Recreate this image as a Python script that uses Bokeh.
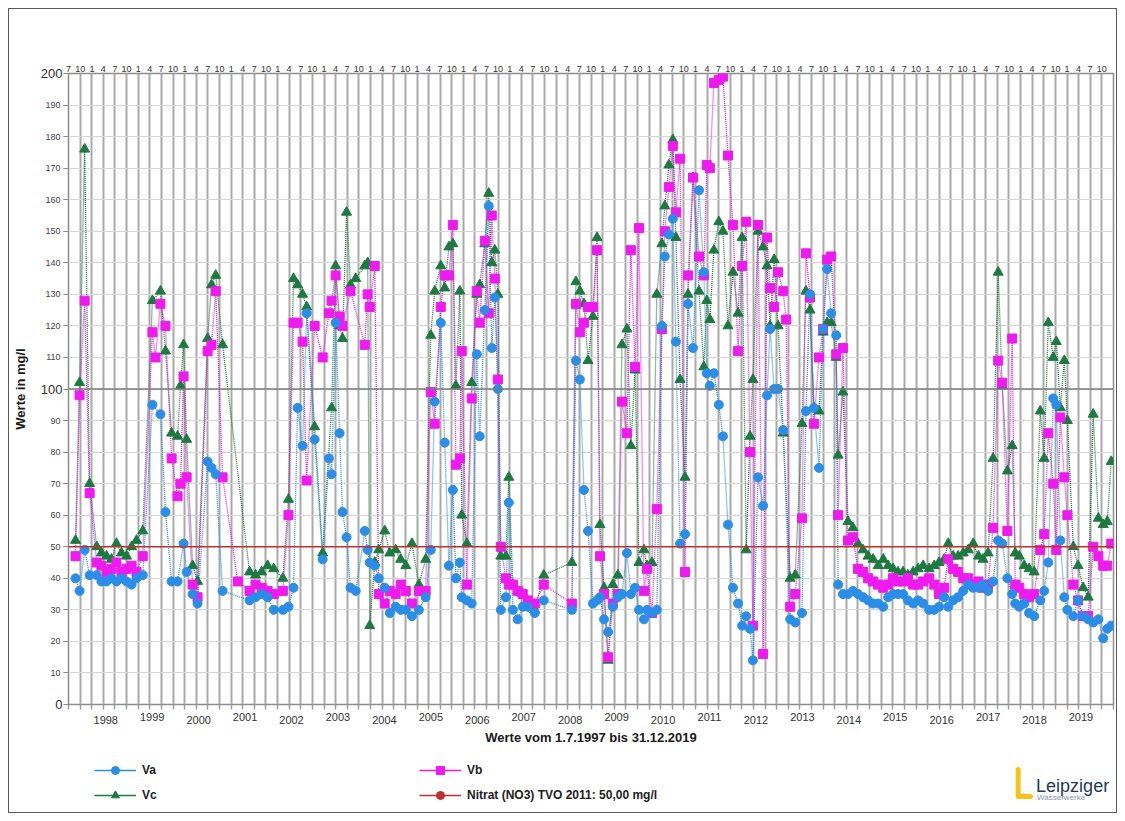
import pandas as pd
from bokeh.plotting import figure
from bokeh.layouts import column
from bokeh.models import (Range1d, LinearAxis, FixedTicker, Span, Legend, LegendItem,
                          Label, ColumnDataSource)
from bokeh.embed import file_html
from bokeh.resources import INLINE

# ---------------- data ----------------
dates = [
    # 1997
    "1997-08-25", "1997-09-26", "1997-11-05", "1997-12-14",
    # 1998
    "1998-02-08", "1998-03-17", "1998-04-26", "1998-06-04", "1998-07-13", "1998-08-22", "1998-10-01", "1998-11-09", "1998-12-18",
    # 1999
    "1999-02-05", "1999-04-22", "1999-05-16", "1999-06-24", "1999-08-03", "1999-09-20", "1999-11-06", "1999-11-29", "1999-12-23",
    # 2000
    "2000-01-16", "2000-03-03", "2000-04-11", "2000-06-29", "2000-07-30", "2000-09-01", "2000-10-25",
    # 2001
    "2001-02-22", "2001-05-25", "2001-07-11", "2001-08-28", "2001-10-14", "2001-12-01",
    # 2002
    "2002-02-11", "2002-03-27", "2002-05-06", "2002-06-07", "2002-07-16", "2002-08-17", "2002-10-19", "2002-12-21",
    # 2003
    "2003-02-08", "2003-03-01", "2003-04-02", "2003-05-03", "2003-05-26", "2003-06-27", "2003-07-28", "2003-09-07", "2003-11-17", "2003-12-10", "2003-12-26",
    # 2004
    "2004-02-04", "2004-03-06", "2004-04-22", "2004-06-01", "2004-07-17", "2004-08-26", "2004-10-05", "2004-11-22",
    # 2005
    "2005-01-16", "2005-03-10", "2005-04-19", "2005-05-20", "2005-07-07", "2005-08-07", "2005-09-09", "2005-10-10", "2005-11-03", "2005-12-04", "2005-12-19",
    # 2006
    "2006-01-28", "2006-03-07", "2006-04-16", "2006-05-09", "2006-06-18", "2006-07-19", "2006-08-12", "2006-09-05", "2006-09-29", "2006-10-22", "2006-12-01", "2006-12-24",
    # 2007
    "2007-01-25", "2007-03-04", "2007-04-13", "2007-05-22", "2007-07-16", "2007-09-25",
    # 2008
    "2008-05-03", "2008-06-04", "2008-07-05", "2008-08-06", "2008-09-07", "2008-10-16", "2008-11-17", "2008-12-10",
    # 2009
    "2009-01-11", "2009-02-12", "2009-03-21", "2009-04-30", "2009-06-01", "2009-07-10", "2009-08-10", "2009-09-12", "2009-10-13", "2009-11-21", "2009-12-15",
    # 2010
    "2010-01-23", "2010-03-02", "2010-04-11", "2010-05-04", "2010-06-05", "2010-07-06", "2010-07-30", "2010-09-01", "2010-10-10", "2010-11-03", "2010-12-12",
    # 2011
    "2011-01-28", "2011-03-07", "2011-03-30", "2011-04-23", "2011-05-25", "2011-07-03", "2011-08-04", "2011-09-13", "2011-10-22", "2011-12-01",
    # 2012
    "2012-01-02", "2012-02-03", "2012-03-04", "2012-03-27", "2012-05-06", "2012-06-15", "2012-07-16", "2012-08-09", "2012-09-10", "2012-10-11", "2012-11-20", "2012-12-13",
    # 2013
    "2013-01-14", "2013-02-23", "2013-04-17", "2013-05-18", "2013-06-19", "2013-07-20", "2013-08-29", "2013-09-30", "2013-11-01", "2013-12-02",
    # 2014
    "2014-01-11", "2014-01-26", "2014-03-05", "2014-04-14", "2014-05-23", "2014-07-01", "2014-08-10", "2014-09-19", "2014-10-28", "2014-12-07",
    # 2015
    "2015-01-16", "2015-02-24", "2015-04-03", "2015-05-12", "2015-06-21", "2015-07-29", "2015-09-08", "2015-10-17", "2015-11-26",
    # 2016
    "2016-01-12", "2016-02-21", "2016-03-30", "2016-05-09", "2016-06-10", "2016-07-19", "2016-08-27", "2016-10-06", "2016-11-15", "2016-12-24",
    # 2017
    "2017-02-03", "2017-03-11", "2017-04-20", "2017-05-29", "2017-07-08", "2017-08-09", "2017-09-18", "2017-10-26", "2017-11-19", "2017-12-21",
    # 2018
    "2018-01-29", "2018-03-08", "2018-04-17", "2018-06-04", "2018-07-05", "2018-08-06", "2018-09-14", "2018-10-08", "2018-11-09", "2018-12-10",
    # 2019
    "2019-01-03", "2019-02-19", "2019-03-28", "2019-05-07", "2019-06-16", "2019-07-25", "2019-09-04", "2019-10-12", "2019-11-13", "2019-12-14",
]

va = [
    40, 36, 49, 41,
    41, 39, 39, 40, 39, 40, 39, 38, 40,
    41, 95, None, 92, 61, 39, 39, None, 51,
    42, 35, 32, 77, 75, 73, 36,
    None, 33, 34, 35, 34, 30,
    30, 31, 37, 94, 82, 124, 84, 46,
    78, 73, 121, 86, 61, 53, 37, 36, 55, 49, 45,
    44, 40, 37, 29, 31, 30, 30, 28,
    30, 34, 49, 96, 121, 83, 44, 68, 40, 45, 34,
    33, 32, 111, 85, 125, 158, 113, 129, 100, 30, 34, 64,
    30, 27, 31, 31, 29, 33,
    30, 109, 103, 68, 55, 32, 33, 34,
    27, 23, 31, 34, 35, 48, 35, 37, 30, 27, 30,
    29, 30, 120, 142, 149, 154, 115, 51, 54, 127, 113,
    163, 137, 105, 101, 105, 95, 85, 57, 37, 32,
    25, 28, 24, 14, 72, 63, 98, 119, 100, 100, 87, None,
    27, 26, 29, 93, 130, 94, 75, 119, 138, 124,
    117, 38, 35, 35, 36, 35, 34, 33, 32, 32,
    31, 34, 35, 35, 35, 33, 32, 33, 32,
    30, 30, 31, 34, 31, 33, 34, 36, 38, 37,
    37, 38, 36, 39, 52, 51, 40, 35, 32, 31,
    32, 29, 28, 33, 36, 45, 97, 95, 52, 34,
    30, 28, 33, 28, 27, 26, 27, 21, 24, 25,
]

vb = [
    47, 98, 128, 67,
    45, 44, 42, 43, 45, 42, 43, 44, 42,
    47, 118, 110, 127, 120, 78, 66, 70, 104,
    72, 38, 34, 112, 114, 131, 72,
    39, 36, 38, 37, 36, 35,
    36, 60, 121, 121, 115, 71, 120, 110,
    124, 128, 136, 123, 120, None, 131, None, 114, 130, 126,
    139, 35, 32, 36, 35, 38, 36, 32,
    36, 36, 99, 89, 126, 136, 136, 152, 76, 78, 112,
    38, 97, 131, 121, 147, 124, 155, 135, 103, 50, 40, 38,
    38, 36, 35, 33, 32, 38,
    32, 127, 118, 121, 126, 126, 144, 47,
    35, 15, 32, 35, 96, 86, 144, 107, 151, 36, 43,
    29, 62, 119, 150, 164, 177, 156, 173, 42, 136, 167,
    142, 136, 171, 170, 197, 198, 199, 174, 152, 112,
    139, 153, 80, 25, 152, 16, 148, 132, 126, 137, 131, 122,
    31, 35, 59, 143, 129, 89, 110, 119, 141, 142,
    111, 60, 113, 52, 53, 43, 42, 40, 39, 38,
    37, 38, 40, 39, 39, 40, 38, 38, 39,
    40, 38, 35, 37, 46, 43, 42, 40, 40, 38,
    39, 37, 38, 56, 109, 102, 55, 116, 38, 37,
    35, 34, 35, 49, 54, 86, 70, 49, 91, 72,
    60, 38, 33, 28, 28, 50, 47, 44, 44, 51,
]

vc = [
    52, 102, 176, 70,
    50, 48, 47, 46, 51, 48, 47, 50, 52,
    55, 128, None, 131, 112, 86, 85, 101, 114,
    84, 44, 39, 116, 133, 136, 114,
    None, 42, 41, 42, 44, 43,
    40, 65, 135, 133, 130, 126, 88, 48,
    None, 94, 139, 120, 116, 156, 133, 135, 139, 140, 25,
    45, 49, 55, 48, 49, 46, 44, 51,
    38, 46, 117, 131, 139, 132, 145, 146, 101, 131, 60,
    51, 102, 130, 133, 146, 162, 140, 144, 130, 47, 47, 72,
    38, 36, 35, 32, 30, 41,
    45, 134, 131, 127, 109, 123, 148, 57,
    37, 14, 38, 41, 114, 119, 82, 106, 45, 49, 44,
    45, 130, 146, 158, 171, 179, 148, 103, 72, 130, 167,
    131, 107, 128, 122, 144, 153, 150, 120, 137, 124,
    148, 49, 85, 103, 150, 145, 139, 120, 141, 120, 86, None,
    40, 41, 89, 131, 125, 94, 93, 118, 121, 121,
    110, 79, 99, 58, 56, 51, 49, 47, 46, 44,
    46, 44, 43, 42, 42, 41, 42, 43, 44,
    43, 44, 45, 46, 51, 47, 47, 48, 49, 51,
    47, 46, 48, 78, 137, 101, 74, 82, 48, 47,
    44, 43, 42, 93, 78, 121, 110, 115, 94, 109,
    90, 50, 44, 37, 34, 92, 59, 57, 58, 77,
]

limit_value = 50.0          # Nitrat (NO3) TVO 2011
ref_value = 100.0
period_start = "1997-07-01"
period_end = "2020-01-01"
y_ticks = list(range(0, 201, 10))
y_major = [0, 100, 200]
years = list(range(1998, 2020))
series_names = ["Va", "Vb", "Vc"]
limit_name = "Nitrat (NO3) TVO 2011: 50,00 mg/l"
x_title = "Werte vom 1.7.1997 bis 31.12.2019"
y_title = "Werte in mg/l"

assert len(dates) == len(va) == len(vb) == len(vc)

# ---------------- helpers ----------------
def to_ms(ts):
    return int(pd.Timestamp(ts).value // 10**6)

t_ms = [to_ms(d) for d in dates]

def series(vals):
    xs = [x for x, v in zip(t_ms, vals) if v is not None]
    ys = [v for v in vals if v is not None]
    return ColumnDataSource(dict(x=xs, y=ys))

quarters = pd.date_range(period_start, period_end, freq="QS-JAN")
q_ms = [to_ms(q) for q in quarters]

FONT = "Liberation Sans"
TXT = "#333333"
AX = "#8c8c8c"

W = 1107            # inside the 1px page frame
H1 = 743
H2 = 60
p = figure(width=W, height=H1,
           x_range=Range1d(to_ms(period_start), to_ms(period_end)),
           y_range=Range1d(0, 200),
           output_backend="svg", toolbar_location=None,
           min_border_left=59, min_border_right=3, min_border_top=64, min_border_bottom=48)
p.background_fill_color = "white"
p.border_fill_color = "white"
p.outline_line_color = AX
p.outline_line_width = 1.5

# grids
p.xgrid.ticker = FixedTicker(ticks=q_ms)
p.xgrid.grid_line_color = "#a9a9a9"
p.xgrid.grid_line_width = 2
p.ygrid.ticker = FixedTicker(ticks=y_ticks)
p.ygrid.grid_line_color = "#d6d6d6"
p.ygrid.grid_line_width = 1

# bottom axis 1: quarter tick marks + odd year labels
odd_years = [y for y in years if y % 2 == 1]
even_years = [y for y in years if y % 2 == 0]
odd_pos = [to_ms(f"{y}-04-20") for y in odd_years]
even_pos = [to_ms(f"{y}-04-20") for y in even_years]
xa = p.xaxis[0]
xa.ticker = FixedTicker(ticks=odd_pos, minor_ticks=q_ms)
xa.major_label_overrides = {pos: str(y) for pos, y in zip(odd_pos, odd_years)}
xa.major_tick_line_color = None
xa.major_tick_out = 5
xa.major_tick_in = 0
xa.minor_tick_out = 5
xa.minor_tick_in = 0
xa.minor_tick_line_color = "#a0a0a0"
xa.minor_tick_line_width = 1.5
xa.axis_line_color = AX
xa.major_label_standoff = 3
xa.major_label_text_font = FONT
xa.major_label_text_font_size = "11px"
xa.major_label_text_color = TXT

# bottom axis 2: even year labels, pulled up
xb = LinearAxis(ticker=FixedTicker(ticks=even_pos, minor_ticks=[]),
                major_label_overrides={pos: str(y) for pos, y in zip(even_pos, even_years)},
                axis_line_color=None, major_tick_line_color=None, minor_tick_line_color=None,
                major_tick_out=0, major_tick_in=0, minor_tick_out=0, minor_tick_in=0,
                major_label_standoff=-8, major_label_text_font=FONT,
                major_label_text_font_size="11px", major_label_text_color=TXT,
                axis_label=x_title, axis_label_text_font=FONT, axis_label_text_font_style="bold",
                axis_label_text_font_size="13px", axis_label_text_color="#1a1a1a",
                axis_label_standoff=3)
p.add_layout(xb, "below")

# top axis with month numbers
top = LinearAxis(ticker=FixedTicker(ticks=q_ms[:-1]),
                 major_label_overrides={q: str(qq.month) for q, qq in zip(q_ms[:-1], quarters[:-1])},
                 axis_line_color=None, major_tick_line_color=None, minor_tick_line_color=None,
                 major_tick_out=0, major_tick_in=0,
                 major_label_text_font_size="9px", major_label_text_font=FONT,
                 major_label_text_color=TXT, major_label_standoff=2)
p.add_layout(top, "above")

# left axis A: every 10 (small font)
y_minor_lab = [v for v in y_ticks if v not in y_major]
ya = p.yaxis[0]
ya.ticker = FixedTicker(ticks=y_minor_lab, minor_ticks=y_ticks)
ya.major_label_text_font = FONT
ya.major_label_text_font_size = "9px"
ya.major_label_text_color = "#444444"
ya.major_tick_in = 0
ya.major_tick_out = 5
ya.minor_tick_in = 0
ya.minor_tick_out = 5
ya.major_tick_line_color = AX
ya.minor_tick_line_color = AX
ya.axis_line_color = AX
ya.major_label_standoff = 3

# left axis B: 0 / 100 / 200 in a larger font, pulled in next to axis A
yb = LinearAxis(ticker=FixedTicker(ticks=y_major, minor_ticks=[]),
                axis_line_color=None, major_tick_line_color=None, minor_tick_line_color=None,
                major_tick_out=0, major_tick_in=0, minor_tick_out=0, minor_tick_in=0,
                major_label_standoff=-20, major_label_text_font=FONT,
                major_label_text_font_size="13px", major_label_text_color=TXT,
                axis_label=y_title, axis_label_text_font=FONT, axis_label_text_font_style="bold",
                axis_label_text_font_size="13px", axis_label_text_color="#1a1a1a",
                axis_label_standoff=10)
p.add_layout(yb, "left")

# reference lines
p.add_layout(Span(location=ref_value, dimension="width", line_color="#7a7a7a", line_width=1.5))
p.add_layout(Span(location=limit_value, dimension="width", line_color="#c0302a", line_width=1.5))

# series
COL_A = "#2a8ee8"
COL_B = "#ee1aee"
COL_C = "#1c7a40"
COL_N = "#c0302a"
sc, sb, sa = series(vc), series(vb), series(va)
p.line("x", "y", source=sc, line_color=COL_C, line_width=1.3, line_dash="1 1")
p.line("x", "y", source=sb, line_color=COL_B, line_width=1.3, line_dash="1 1")
p.line("x", "y", source=sa, line_color=COL_A, line_width=1.3, line_dash="1 1")
p.scatter("x", "y", source=sc, marker="triangle", size=10, color=COL_C)
p.scatter("x", "y", source=sb, marker="square", size=9, color=COL_B)
p.scatter("x", "y", source=sa, marker="circle", size=9, color=COL_A)

# ---------------- legend strip with logo ----------------
p2 = figure(width=W, height=H2, x_range=Range1d(0, W), y_range=Range1d(0, H2),
            output_backend="svg", toolbar_location=None,
            x_axis_type=None, y_axis_type=None, min_border=0)
p2.outline_line_color = None
p2.background_fill_color = "white"
p2.border_fill_color = "white"

NAN = float("nan")

def leg(color, marker, msize):
    r1 = p2.line(x=[NAN, NAN], y=[NAN, NAN], line_color=color, line_width=1.5)
    r2 = p2.scatter(x=[NAN], y=[NAN], marker=marker, size=msize, color=color)
    return [r1, r2]

legend = Legend(items=[
    LegendItem(label=series_names[0], renderers=leg(COL_A, "circle", 8)),
    LegendItem(label=series_names[1], renderers=leg(COL_B, "square", 8)),
    LegendItem(label=series_names[2], renderers=leg(COL_C, "triangle", 9)),
    LegendItem(label=limit_name, renderers=leg(COL_N, "circle", 8)),
], location=(26, 7), orientation="horizontal", ncols=2,
    glyph_width=42, glyph_height=20, label_standoff=6, label_width=272, spacing=5,
    padding=0, margin=0, border_line_color=None, background_fill_alpha=0,
    label_text_font=FONT, label_text_font_size="12px", label_text_font_style="bold",
    label_text_color="#222222")
p2.add_layout(legend)

# logo
p2.line(x=[1006, 1006, 1019], y=[43, 16, 16], line_color="#f5c31c", line_width=5,
        line_cap="round", line_join="round")
p2.add_layout(Label(x=1025, y=27, text="Leipziger",
                    text_font=FONT, text_font_size="18px", text_color="#1e3a5c",
                    text_baseline="alphabetic"))
p2.add_layout(Label(x=1026, y=15, text="Wasserwerke",
                    text_font=FONT, text_font_size="8px", text_color="#8a98a8",
                    text_baseline="alphabetic"))

layout = column(p, p2, spacing=0,
                styles={"margin": "8px", "border": "1px solid #5a5a5a"})
open("out.html", "w").write(file_html(layout, INLINE))
